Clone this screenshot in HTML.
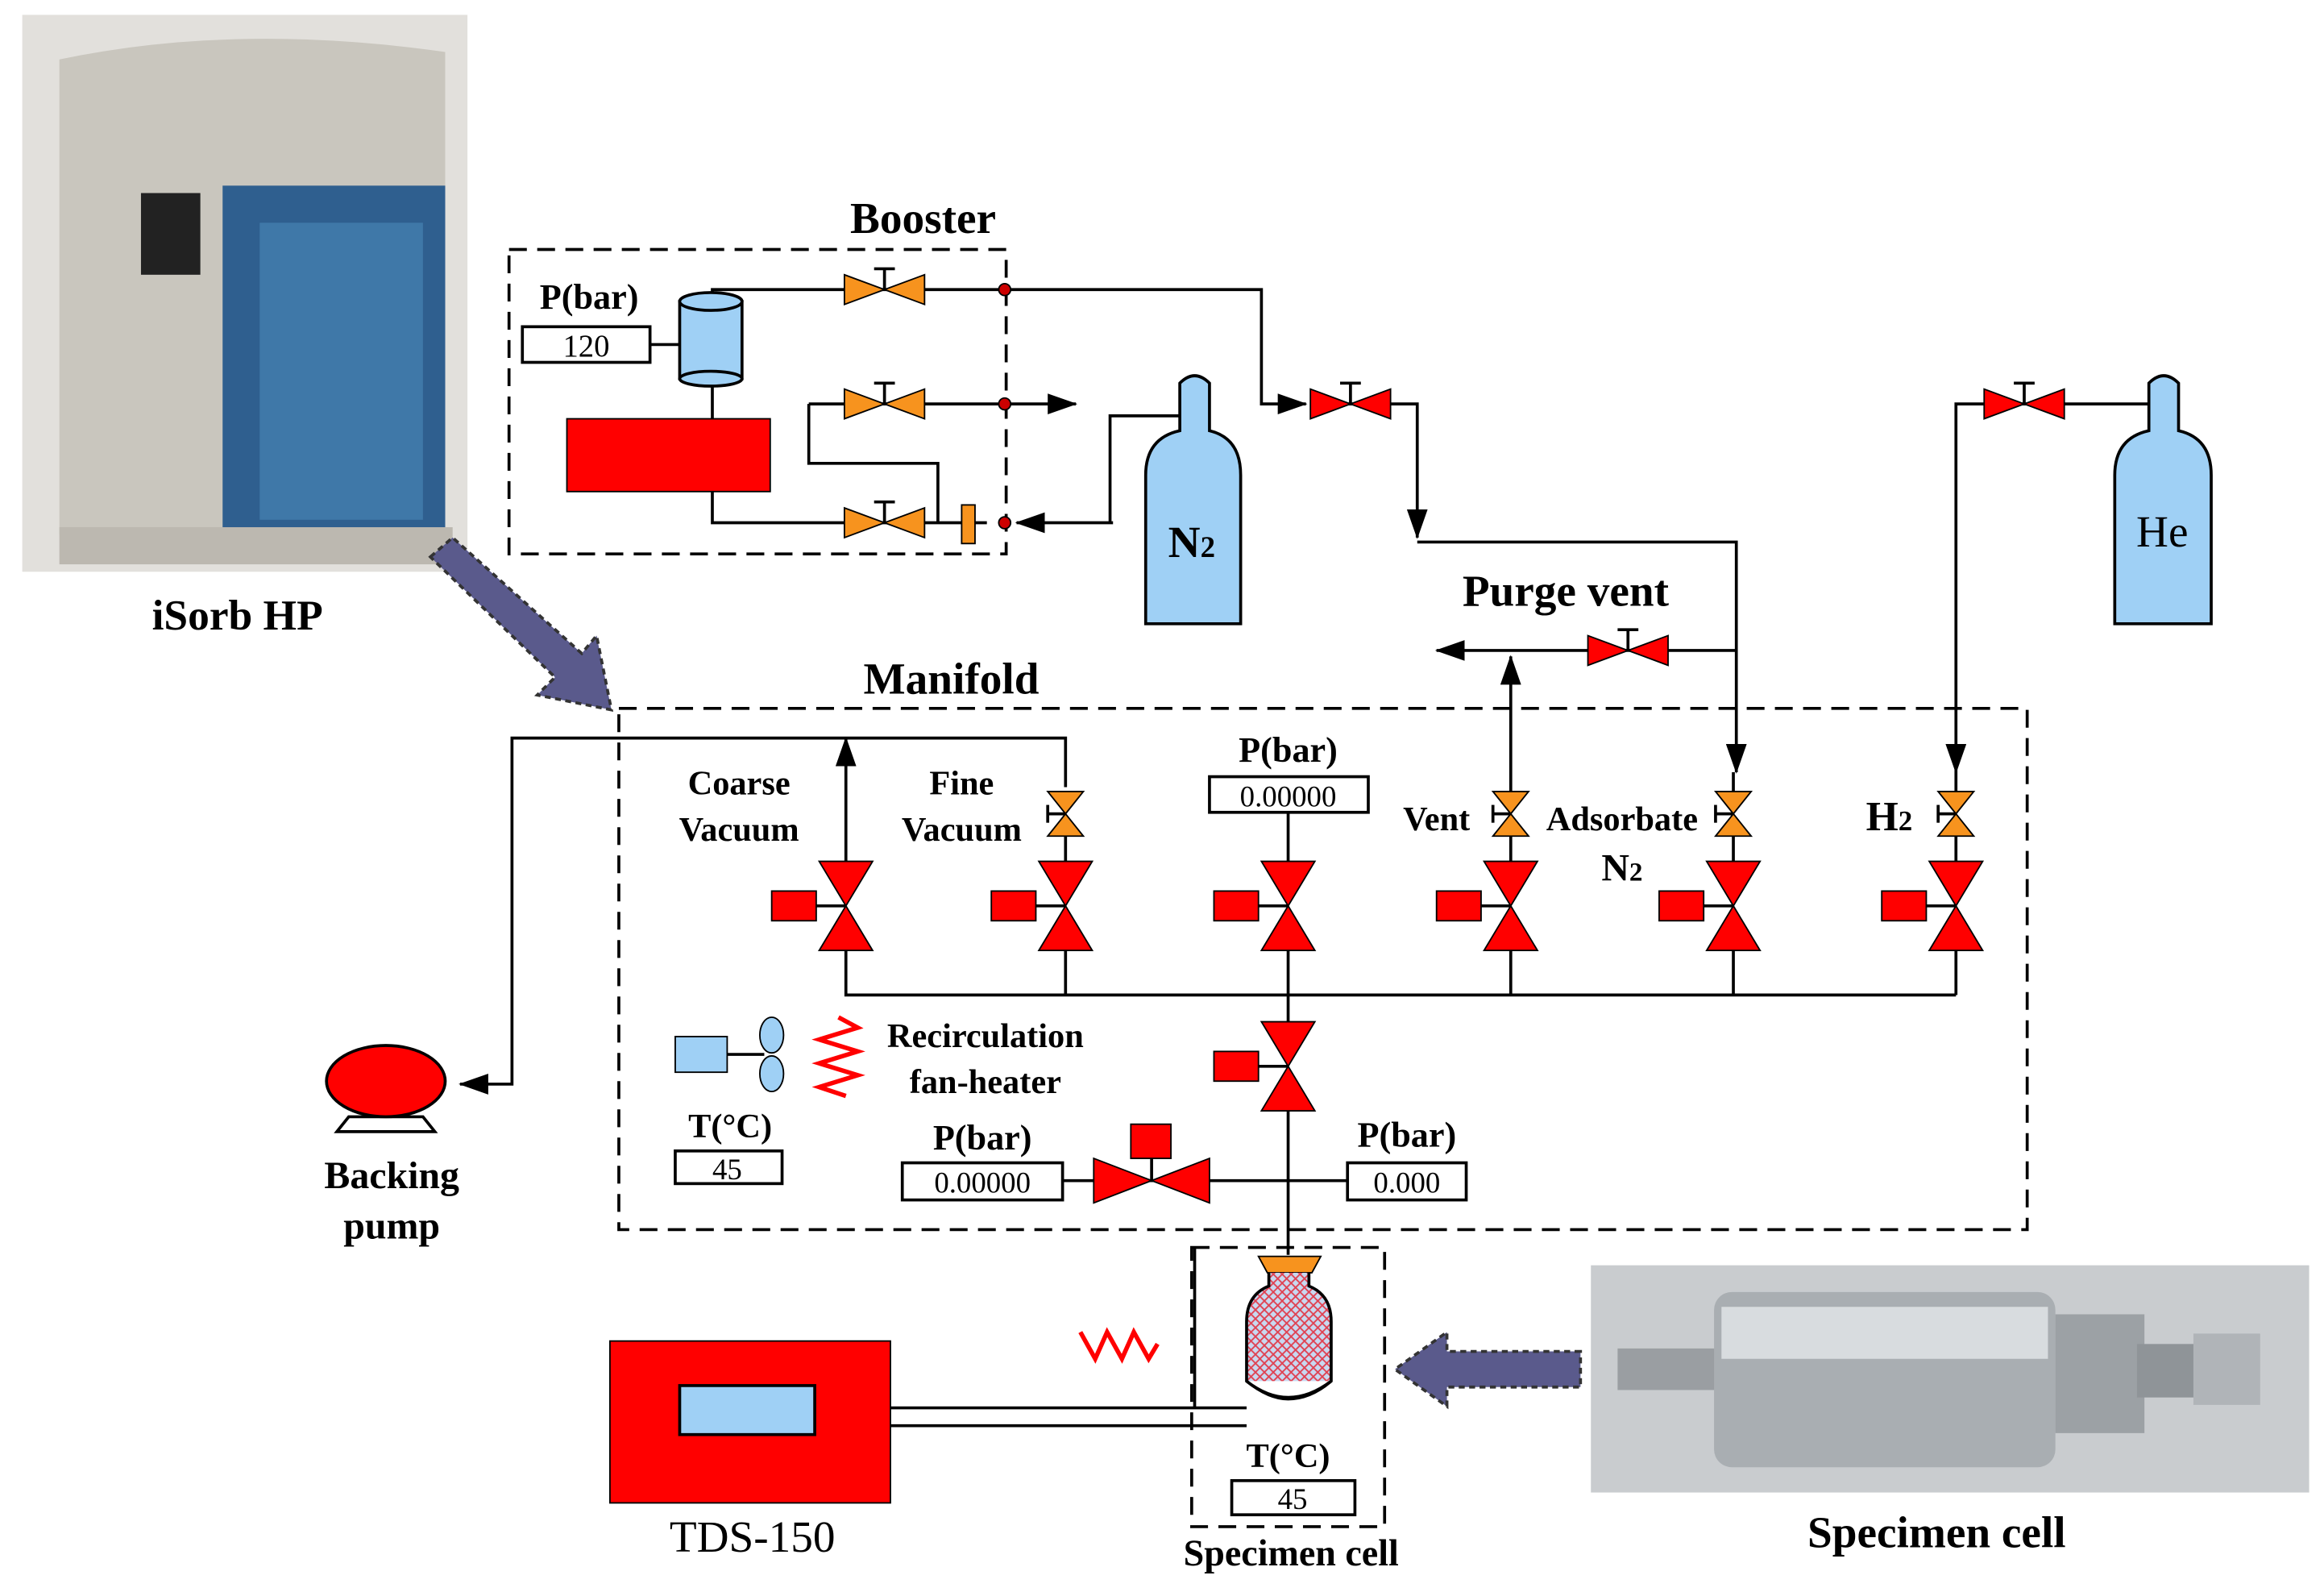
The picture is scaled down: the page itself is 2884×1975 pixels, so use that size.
<!DOCTYPE html>
<html><head><meta charset="utf-8"><style>
html,body{margin:0;padding:0;background:#fff}
svg{display:block}
text{font-family:"Liberation Serif",serif;font-weight:bold;fill:#000}
</style></head><body>
<svg width="2884" height="1975" viewBox="0 0 1566 1072" preserveAspectRatio="none" xmlns="http://www.w3.org/2000/svg">
<defs>
<marker id="ab" viewBox="0 0 20 14" markerWidth="20" markerHeight="14" refX="19" refY="7" orient="auto" markerUnits="userSpaceOnUse"><path d="M0,0 L20,7 L0,14 z" fill="#000"/></marker>
<g id="vv"><path d="M-18,-30 L18,-30 L0,0 z M-18,30 L18,30 L0,0 z" fill="#f00" stroke="#000" stroke-width="1"/><rect x="-50" y="-10" width="30" height="20" fill="#f00" stroke="#000"/><line x1="-20" y1="0" x2="0" y2="0" stroke="#000" stroke-width="2"/></g>
<g id="sv"><path d="M-12,-15 L12,-15 L0,0 z M-12,15 L12,15 L0,0 z" fill="#f7931e" stroke="#000"/><line x1="-12" y1="0" x2="0" y2="0" stroke="#000" stroke-width="2"/><line x1="-12" y1="-6" x2="-12" y2="6" stroke="#000" stroke-width="2"/></g>
<g id="ho"><path d="M-27,-10 L-27,10 L0,0 z M27,-10 L27,10 L0,0 z" fill="#f7931e" stroke="#000"/><line x1="0" y1="0" x2="0" y2="-14" stroke="#000" stroke-width="2"/><line x1="-7" y1="-14" x2="7" y2="-14" stroke="#000" stroke-width="2"/></g>
<g id="hr"><path d="M-27,-10 L-27,10 L0,0 z M27,-10 L27,10 L0,0 z" fill="#f00" stroke="#000"/><line x1="0" y1="0" x2="0" y2="-14" stroke="#000" stroke-width="2"/><line x1="-7" y1="-14" x2="7" y2="-14" stroke="#000" stroke-width="2"/></g>
<pattern id="hatch" width="6" height="6" patternUnits="userSpaceOnUse"><rect width="6" height="6" fill="#c8d8f0"/><path d="M0,0 L6,6 M6,0 L0,6" stroke="#e04050" stroke-width="1"/></pattern>
</defs>

<rect x="15" y="10" width="300" height="375" fill="#e2e0dc"/>
<path d="M40,40 Q160,15 300,35 L300,360 L40,360 z" fill="#c9c6be"/>
<rect x="150" y="125" width="150" height="240" fill="#2f5f8f"/>
<rect x="175" y="150" width="110" height="200" fill="#3f78a8"/>
<rect x="95" y="130" width="40" height="55" fill="#222"/>
<rect x="40" y="355" width="265" height="25" fill="#bcb8b0"/>
<text x="160" y="424" font-size="29" text-anchor="middle">iSorb HP</text>

<path d="M290,375 L305,362 L392,440 L402,428 L412,478 L362,468 L374,456 L290,375 z" fill="#5a5a8c" stroke="#333" stroke-dasharray="4,3" stroke-width="2"/>

<rect x="343" y="168" width="335" height="205" fill="none" stroke="#000" stroke-width="2" stroke-dasharray="12,7"/>
<text x="622" y="157" font-size="30" text-anchor="middle">Booster</text>
<text x="397" y="208" font-size="24" text-anchor="middle">P(bar)</text>
<rect x="352" y="220" width="86" height="24" fill="#fff" stroke="#000" stroke-width="2"/>
<text x="395" y="240" font-size="21" text-anchor="middle" style="font-weight:normal">120</text>
<line x1="438" y1="232" x2="458" y2="232" stroke="#000" stroke-width="2"/>
<g stroke="#000" stroke-width="2" fill="none">
<path d="M480,200 L480,195 L850,195 L850,272 L880,272" marker-end="url(#ab)"/>
<path d="M900,272 L955,272 L955,362" marker-end="url(#ab)"/>
<path d="M955,365 L1170,365 L1170,520" marker-end="url(#ab)"/>
<path d="M545,272 L725,272" marker-end="url(#ab)"/>
<path d="M545,272 L545,312 L632,312 L632,352"/>
<path d="M480,258 L480,352 L665,352"/>
<path d="M750,352 L685,352" marker-end="url(#ab)"/>
<path d="M748,352 L748,280 L795,280"/>
<path d="M1448,272 L1318,272 L1318,520" marker-end="url(#ab)"/>
<path d="M1170,438 L968,438" marker-end="url(#ab)"/>
<path d="M1018,530 L1018,442" marker-end="url(#ab)"/>
<path d="M718,530 L718,497 L345,497 L345,730 L310,730" marker-end="url(#ab)"/>
<path d="M570,580 L570,497" marker-end="url(#ab)"/>
<path d="M570,640 L570,670 L1318,670"/>
<path d="M718,640 L718,670 M868,640 L868,690 M1018,640 L1018,670 M1168,640 L1168,670 M1318,640 L1318,670"/>
<path d="M718,563 L718,580 M1018,563 L1018,580 M1168,563 L1168,580 M1318,563 L1318,580 M1018,530 L1018,533 M1168,520 L1168,533 M1318,520 L1318,533"/>
<path d="M868,547 L868,580"/>
<path d="M868,745 L868,845"/>
<path d="M716,795 L908,795"/>
<path d="M600,948 L840,948 M600,960 L840,960 M805,948 L805,840"/>
</g>
<rect x="458" y="203" width="42" height="52" fill="#9fd0f5" stroke="#000" stroke-width="2"/>
<ellipse cx="479" cy="203" rx="21" ry="6" fill="#9fd0f5" stroke="#000" stroke-width="2"/>
<ellipse cx="479" cy="255" rx="21" ry="5" fill="#9fd0f5" stroke="#000" stroke-width="2"/>
<rect x="382" y="282" width="137" height="49" fill="#f00" stroke="#000"/>
<use href="#ho" x="596" y="195"/><use href="#ho" x="596" y="272"/><use href="#ho" x="596" y="352"/>
<rect x="648" y="340" width="9" height="26" fill="#f7931e" stroke="#000"/>
<circle cx="677" cy="195" r="4" fill="#c00" stroke="#000"/><circle cx="677" cy="272" r="4" fill="#c00" stroke="#000"/><circle cx="677" cy="352" r="4" fill="#c00" stroke="#000"/>
<use href="#hr" x="910" y="272"/><use href="#hr" x="1364" y="272"/><use href="#hr" x="1097" y="438"/>

<path d="M795,290 L795,258 Q805,248 815,258 L815,290 Q836,295 836,320 L836,420 L772,420 L772,320 Q772,295 795,290 z" fill="#9fd0f5" stroke="#000" stroke-width="2"/>
<text x="803" y="375" font-size="30" text-anchor="middle">N<tspan font-size="20">2</tspan></text>
<path d="M1448,290 L1448,258 Q1458,248 1468,258 L1468,290 Q1490,295 1490,320 L1490,420 L1425,420 L1425,320 Q1425,295 1448,290 z" fill="#9fd0f5" stroke="#000" stroke-width="2"/>
<text x="1457" y="368" font-size="30" text-anchor="middle" style="font-weight:normal">He</text>

<text x="1055" y="408" font-size="30" text-anchor="middle">Purge vent</text>

<rect x="417" y="477" width="949" height="351" fill="none" stroke="#000" stroke-width="2" stroke-dasharray="12,7"/>
<text x="641" y="467" font-size="30" text-anchor="middle">Manifold</text>
<text x="498" y="535" font-size="23" text-anchor="middle">Coarse</text>
<text x="498" y="566" font-size="23" text-anchor="middle">Vacuum</text>
<text x="648" y="535" font-size="23" text-anchor="middle">Fine</text>
<text x="648" y="566" font-size="23" text-anchor="middle">Vacuum</text>
<text x="868" y="513" font-size="24" text-anchor="middle">P(bar)</text>
<rect x="815" y="523" width="107" height="24" fill="#fff" stroke="#000" stroke-width="2"/>
<text x="868" y="543" font-size="20" text-anchor="middle" style="font-weight:normal">0.00000</text>
<text x="968" y="559" font-size="23" text-anchor="middle">Vent</text>
<text x="1093" y="559" font-size="23" text-anchor="middle">Adsorbate</text>
<text x="1093" y="593" font-size="26" text-anchor="middle">N<tspan font-size="18">2</tspan></text>
<text x="1273" y="559" font-size="28" text-anchor="middle">H<tspan font-size="19">2</tspan></text>

<use href="#sv" x="718" y="548"/><use href="#sv" x="1018" y="548"/><use href="#sv" x="1168" y="548"/><use href="#sv" x="1318" y="548"/>
<use href="#vv" x="570" y="610"/><use href="#vv" x="718" y="610"/><use href="#vv" x="868" y="610"/><use href="#vv" x="1018" y="610"/><use href="#vv" x="1168" y="610"/><use href="#vv" x="1318" y="610"/>
<use href="#vv" x="868" y="718"/>
<path d="M737,780 L737,810 L776,795 z M815,780 L815,810 L776,795 z" fill="#f00" stroke="#000"/>
<line x1="776" y1="795" x2="776" y2="780" stroke="#000" stroke-width="2"/>
<rect x="762" y="757" width="27" height="23" fill="#f00" stroke="#000"/>
<text x="662" y="774" font-size="24" text-anchor="middle">P(bar)</text>
<rect x="608" y="783" width="108" height="25" fill="#fff" stroke="#000" stroke-width="2"/>
<text x="662" y="803" font-size="20" text-anchor="middle" style="font-weight:normal">0.00000</text>
<text x="948" y="772" font-size="24" text-anchor="middle">P(bar)</text>
<rect x="908" y="783" width="80" height="25" fill="#fff" stroke="#000" stroke-width="2"/>
<text x="948" y="803" font-size="20" text-anchor="middle" style="font-weight:normal">0.000</text>

<rect x="455" y="698" width="35" height="24" fill="#9fd0f5" stroke="#000"/>
<line x1="490" y1="710" x2="515" y2="710" stroke="#000" stroke-width="2"/>
<ellipse cx="520" cy="697" rx="8" ry="12" fill="#9fd0f5" stroke="#000"/>
<ellipse cx="520" cy="723" rx="8" ry="12" fill="#9fd0f5" stroke="#000"/>
<path d="M565,685 L578,692 L552,700 L578,708 L552,716 L578,724 L552,732 L570,738" fill="none" stroke="#f00" stroke-width="3"/>
<text x="664" y="705" font-size="23" text-anchor="middle">Recirculation</text>
<text x="664" y="736" font-size="23" text-anchor="middle">fan-heater</text>
<text x="492" y="766" font-size="23" text-anchor="middle">T(°C)</text>
<rect x="455" y="775" width="72" height="22" fill="#fff" stroke="#000" stroke-width="2"/>
<text x="490" y="794" font-size="20" text-anchor="middle" style="font-weight:normal">45</text>

<path d="M235,752 L285,752 L293,762 L227,762 z" fill="#fff" stroke="#000" stroke-width="2"/>
<ellipse cx="260" cy="728" rx="40" ry="24" fill="#f00" stroke="#000" stroke-width="2"/>
<text x="264" y="800" font-size="26" text-anchor="middle">Backing</text>
<text x="264" y="834" font-size="26" text-anchor="middle">pump</text>

<rect x="803" y="840" width="130" height="188" fill="none" stroke="#000" stroke-width="2" stroke-dasharray="12,7"/>
<path d="M848,846 L890,846 L884,857 L854,857 z" fill="#f7931e" stroke="#000"/>
<path d="M855,857 L855,866 Q840,872 840,890 L840,930 Q855,942 868,942 Q883,942 897,930 L897,890 Q897,872 882,866 L882,857" fill="url(#hatch)" stroke="#000" stroke-width="2"/>
<path d="M840,930 Q868,952 897,930" fill="#fff" stroke="#000" stroke-width="2"/>
<path d="M728,897 L738,915 L746,897 L756,915 L764,897 L774,915 L780,905" fill="none" stroke="#f00" stroke-width="3"/>
<text x="868" y="988" font-size="23" text-anchor="middle">T(°C)</text>
<rect x="830" y="997" width="83" height="23" fill="#fff" stroke="#000" stroke-width="2"/>
<text x="871" y="1016" font-size="20" text-anchor="middle" style="font-weight:normal">45</text>
<text x="870" y="1054" font-size="25" text-anchor="middle">Specimen cell</text>

<rect x="411" y="903" width="189" height="109" fill="#f00" stroke="#000"/>
<rect x="458" y="933" width="91" height="33" fill="#9fd0f5" stroke="#000" stroke-width="2"/>
<text x="507" y="1045" font-size="30" text-anchor="middle" style="font-weight:normal">TDS-150</text>

<path d="M1065,910 L975,910 L975,897 L940,922 L975,947 L975,934 L1065,934 z" fill="#5a5a8c" stroke="#333" stroke-dasharray="4,3" stroke-width="2"/>

<rect x="1072" y="852" width="484" height="153" fill="#c9cccf"/>
<rect x="1090" y="908" width="70" height="28" fill="#9a9ea2"/>
<rect x="1155" y="870" width="230" height="118" rx="12" fill="#a9aeb2"/>
<rect x="1160" y="880" width="220" height="35" fill="#d8dcdf"/>
<rect x="1385" y="885" width="60" height="80" fill="#9ca1a5"/>
<rect x="1440" y="905" width="40" height="36" fill="#8f9498"/>
<rect x="1478" y="898" width="45" height="48" fill="#b0b4b8"/>
<text x="1305" y="1042" font-size="30" text-anchor="middle">Specimen cell</text>
</svg>
</body></html>
